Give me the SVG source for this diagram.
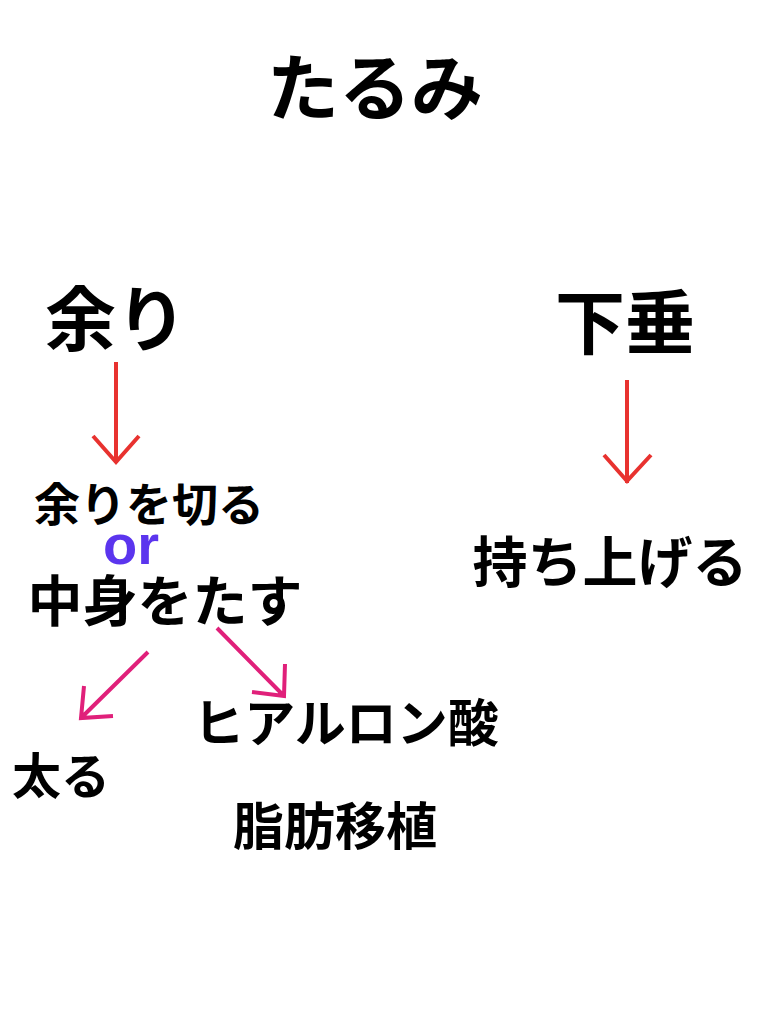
<svg xmlns="http://www.w3.org/2000/svg" width="768" height="1024" viewBox="0 0 768 1024">
<style>
.t{font-family:"Noto Sans CJK JP","Noto Sans",sans-serif;font-weight:bold;fill:#000}
.red{stroke:#e8322f;stroke-width:4;fill:none;stroke-linecap:butt}
.pink{stroke:#e0207a;stroke-width:4;fill:none}
</style>
<rect width="768" height="1024" fill="#fff"/>
<g id="title"><text class="t" x="375" y="114" font-size="72" text-anchor="middle">たるみ</text></g>
<g id="amari"><text class="t" x="116" y="345" font-size="71" text-anchor="middle">余り</text></g>
<g id="kasui"><text class="t" x="625" y="349" font-size="70" text-anchor="middle">下垂</text></g>
<g id="kiru"><text class="t" x="149" y="521" font-size="46" text-anchor="middle">余りを切る</text></g>
<g id="or"><text x="131" y="564" font-family="Liberation Sans,Arial,sans-serif" font-weight="bold" font-size="56" fill="#5b35ee" text-anchor="middle">or</text></g>
<g id="nakami"><text class="t" x="165" y="621" font-size="55" text-anchor="middle">中身をたす</text></g>
<g id="mochiage"><text class="t" x="610" y="582" font-size="55" text-anchor="middle">持ち上げる</text></g>
<g id="hyaluron"><text class="t" x="346" y="742" font-size="51" text-anchor="middle">ヒアルロン酸</text></g>
<g id="futoru"><text class="t" x="61" y="794" font-size="49" text-anchor="middle">太る</text></g>
<g id="shibou"><text class="t" x="335" y="845" font-size="51" text-anchor="middle">脂肪移植</text></g>
<g id="connectors">
<path class="red" d="M116 362 V463 M93 436 L116 462 L139 436"/>
<path class="red" d="M627 380 V483 M604 455 L627 481 L651 455"/>
<path class="pink" d="M148 652 L81 718 M113 716 L81 718 L84 686"/>
<path class="pink" d="M217 628 L284 696 M285 664 L284 696 L252 692"/>
</g>
</svg>
